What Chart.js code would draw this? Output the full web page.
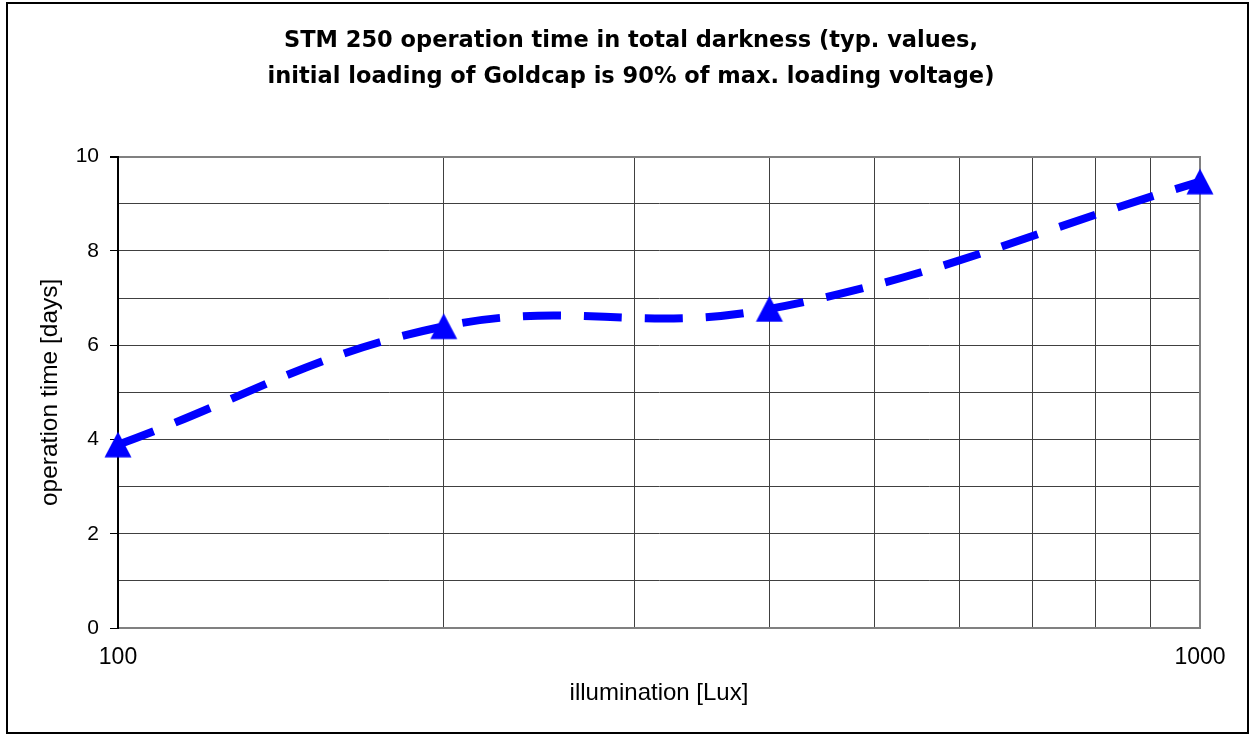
<!DOCTYPE html>
<html>
<head>
<meta charset="utf-8">
<script src="https://cdn.jsdelivr.net/npm/chart.js@4"></script>
<style>
  html, body { margin: 0; padding: 0; background: #fff; }
  #wrap { width: 1254px; height: 736px; }
</style>
</head>
<body>
<div id="wrap"><canvas id="chart"></canvas></div>
<script>
// --- data ---
var illumination = [100, 200, 400, 1000];        // Lux
var operationDays = [3.89, 6.40, 6.77, 9.47];    // days
var xGridValues = [100, 200, 300, 400, 500, 600, 700, 800, 900, 1000];
var xTickLabels = [100, 1000];
var yTickLabels = [0, 2, 4, 6, 8, 10];
var titleLines = [
  'STM 250 operation time in total darkness (typ. values,',
  'initial loading of Goldcap is 90% of max. loading voltage)'
];

Chart.defaults.font.family = '"Liberation Sans", Arial, sans-serif';
Chart.defaults.color = '#000';

// triangle marker centred on its bounding box (as the spreadsheet draws it)
function makeTriangle() {
  var c = document.createElement('canvas');
  c.width = 30;
  c.height = 28;
  var g = c.getContext('2d');
  g.fillStyle = '#0000ff';
  g.beginPath();
  g.moveTo(15, 1);
  g.lineTo(28.5, 26.8);
  g.lineTo(1.5, 26.8);
  g.closePath();
  g.fill();
  return c;
}

// outer frame round the whole chart
var framePlugin = {
  id: 'frame',
  afterDraw: function(chart) {
    var ctx = chart.ctx;
    ctx.save();
    ctx.strokeStyle = '#000';
    ctx.lineWidth = 2;
    ctx.strokeRect(7, 3, 1241, 730);
    ctx.restore();
  }
};

var points = illumination.map(function(x, i) { return { x: x, y: operationDays[i] }; });

new Chart(document.getElementById('chart'), {
  type: 'line',
  data: {
    datasets: [{
      label: 'operation time',
      data: points,
      borderColor: '#0000ff',
      borderWidth: 8,
      borderDash: [38, 23],
      borderCapStyle: 'butt',
      tension: 0.4,
      fill: false,
      pointStyle: makeTriangle(),
      pointRadius: 15,
      clip: false
    }]
  },
  options: {
    responsive: true,
    maintainAspectRatio: false,
    animation: false,
    layout: { padding: { left: 20, right: 12, top: 0, bottom: 10 } },
    plugins: {
      legend: { display: false },
      tooltip: { enabled: false },
      title: {
        display: true,
        text: titleLines,
        color: '#000',
        font: { family: '"DejaVu Sans", sans-serif', size: 22.5, weight: 'bold', lineHeight: 1.58 },
        padding: { top: 23.8, bottom: 61.8 }
      }
    },
    scales: {
      x: {
        type: 'logarithmic',
        min: 100,
        max: 1000,
        afterBuildTicks: function(scale) {
          scale.ticks = xGridValues.map(function(v) { return { value: v }; });
        },
        afterFit: function(scale) { scale.height = 98; },
        grid: { color: '#404040', lineWidth: 1, drawTicks: false },
        border: { color: '#808080', width: 2 },
        ticks: {
          autoSkip: false,
          maxRotation: 0,
          padding: 16.2,
          font: { size: 23 },
          callback: function(v) { return xTickLabels.indexOf(v) >= 0 ? String(v) : ''; }
        },
        title: {
          display: true,
          text: 'illumination [Lux]',
          font: { size: 24 },
          padding: { top: 0, bottom: 17.9 }
        }
      },
      y: {
        type: 'linear',
        min: 0,
        max: 10,
        afterFit: function(scale) { scale.width = 98; },
        grid: {
          color: function(c) { return c.tick && c.tick.value === 10 ? '#808080' : '#404040'; },
          lineWidth: function(c) { return c.tick && c.tick.value === 10 ? 2 : 1; },
          tickLength: 8,
          tickColor: function(c) { return c.tick && yTickLabels.indexOf(c.tick.value) >= 0 ? '#000' : 'rgba(0,0,0,0)'; }
        },
        border: { color: '#000', width: 2 },
        ticks: {
          stepSize: 1,
          autoSkip: false,
          padding: 11,
          font: { size: 21 },
          callback: function(v) { return yTickLabels.indexOf(v) >= 0 ? String(v) : ''; }
        },
        title: {
          display: true,
          text: 'operation time [days]',
          font: { size: 24.5 },
          padding: { top: 15.8, bottom: 0 }
        }
      },
      // empty right axis: only its border, closing the plot area
      yRight: {
        type: 'linear',
        position: 'right',
        afterFit: function(scale) { scale.width = 42; },
        grid: { display: false, drawOnChartArea: false },
        border: { color: '#808080', width: 2 },
        ticks: { display: false }
      }
    }
  },
  plugins: [framePlugin]
});
</script>
</body>
</html>
